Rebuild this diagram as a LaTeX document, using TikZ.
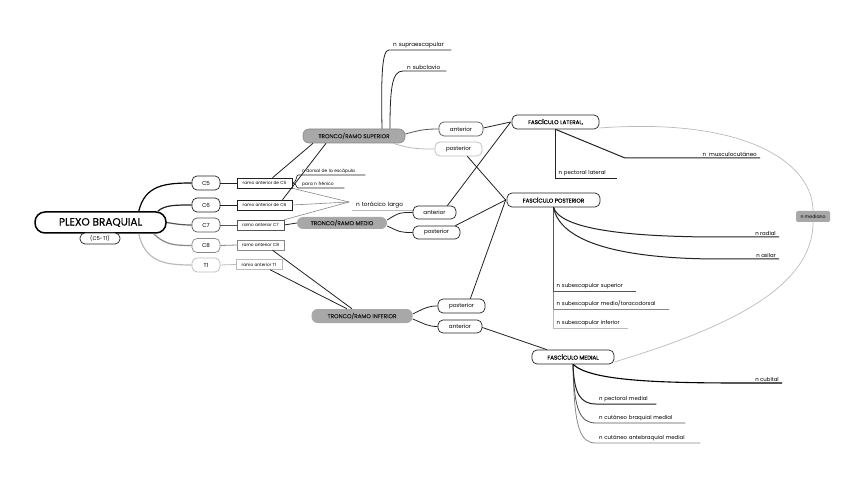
\documentclass[tikz,border=0pt]{standalone}
\usepackage{fontspec}
\setmainfont{Poppins}
\newfontfamily\popbold[FakeBold=0.5]{Poppins}
\newfontfamily\popmed[FakeBold=0.3]{Poppins}
\definecolor{gA}{HTML}{222222}
\definecolor{gB}{HTML}{555555}
\definecolor{gC}{HTML}{888888}
\definecolor{gD}{HTML}{BBBBBB}
\definecolor{trk}{HTML}{A8A8A8}
\begin{document}
\begin{tikzpicture}[x=1pt,y=-1pt,
  pill/.style={draw=gA, rounded corners=5pt, line width=0.7pt, inner sep=0pt, fill=white, font=\fontsize{5.6}{6}\selectfont},
  rbox/.style={draw=gA, line width=0.5pt, inner sep=0pt, fill=white, font=\fontsize{4.3}{5}\selectfont},
  trunk/.style={fill=trk, rounded corners=6pt, inner sep=0pt, text=gA, font=\popbold\fontsize{5.7}{6}\selectfont},
  leaf/.style={anchor=south west, inner xsep=2pt, inner ysep=1.6pt, align=left, font=\fontsize{5.4}{6}\selectfont},
  leafr/.style={anchor=south east, inner xsep=3pt, inner ysep=1.6pt, align=right, font=\fontsize{5.4}{6}\selectfont},
  cn/.style={line width=0.8pt, draw=gA},
]
\path[fill=white] (0,0) rectangle (848,478);

% ---------- root ----------
\node[draw=black, line width=1.5pt, rounded corners=10pt, minimum width=131pt, minimum height=21pt, inner sep=0pt, font=\popmed\fontsize{10.5}{12}\selectfont] (plexo) at (100.5,222.5) {PLEXO BRAQUIAL};
\node[pill, minimum width=40pt, minimum height=11pt, font=\fontsize{5.3}{6}\selectfont] (c5t1) at (100,238.5) {(C5-T1)};

% ---------- roots C5-T1 ----------
\node[pill, minimum width=28pt, minimum height=14pt] (C5) at (206,183) {C5};
\node[pill, minimum width=28pt, minimum height=14pt] (C6) at (206,205) {C6};
\node[pill, draw=gB, minimum width=28pt, minimum height=14pt] (C7) at (206,225) {C7};
\node[pill, draw=gC, minimum width=28pt, minimum height=14pt] (C8) at (206,245.5) {C8};
\node[pill, draw=gD, minimum width=28pt, minimum height=14pt] (T1) at (206,265) {T1};

\draw[line width=1.2pt, black] ([xshift=-28pt]plexo.north east) .. controls (145,185) and (165,183) .. (C5.west);
\draw[line width=1.2pt, gA] ([xshift=-9pt]plexo.north east) .. controls (165,205) and (175,205) .. (C6.west);
\draw[line width=1.2pt, gB] (plexo.east) .. controls (176,224) and (182,225) .. (C7.west);
\draw[line width=1.2pt, gC] ([xshift=-13pt]plexo.south east) .. controls (165,245) and (175,245.5) .. (C8.west);
\draw[line width=1.2pt, gD] ([xshift=-28pt]plexo.south east) .. controls (145,262) and (165,265) .. (T1.west);

% ---------- ramos ----------
\node[rbox, minimum width=55pt, minimum height=10pt] (rC5) at (264.5,183) {ramo anterior de C5};
\node[rbox, minimum width=55pt, minimum height=10pt] (rC6) at (264.5,205) {ramo anterior de C6};
\node[rbox, draw=gB, minimum width=47pt, minimum height=10pt] (rC7) at (260.5,225) {ramo anterior C7};
\node[rbox, draw=gC, minimum width=47pt, minimum height=10pt] (rC8) at (260.5,245) {ramo anterior C8};
\node[rbox, draw=gD, minimum width=46pt, minimum height=10pt] (rT1) at (259,264.5) {ramo anterior T1};

\draw[cn] (C5.east) -- (rC5.west);
\draw[cn, gA] (C6.east) -- (rC6.west);
\draw[cn, gB] (C7.east) -- (rC7.west);
\draw[cn, gC] (C8.east) -- (rC8.west);
\draw[cn, gD] (T1.east) -- (rT1.west);

% ---------- small leaves near C5 ----------
\node[leaf, text width=59pt, font=\fontsize{4.4}{5}\selectfont, inner xsep=4pt] (dorsal) at (298,175) {n dorsal de la escápula};
\node[leaf, text width=38pt, font=\fontsize{4.4}{5}\selectfont, inner xsep=4pt] (frenico) at (298,188) {para n frénico};
\draw[line width=0.6pt, gA] (rC5.east) .. controls (297,183) and (296,175) .. (dorsal.south west) -- (dorsal.south east);
\draw[line width=0.6pt, gA] (rC5.east) .. controls (297,183) and (296,188) .. (frenico.south west) -- (frenico.south east);

\node[leaf, text width=57pt, inner xsep=4pt, font=\fontsize{5.8}{6}\selectfont] (torac) at (352,210) {n torácico largo};
\coordinate (tj) at (349,202);
\draw[line width=0.6pt, gD] (torac.south west) -- (torac.south east);
\draw[line width=0.6pt, gC] (rC5.south east) -- (tj);
\draw[line width=0.6pt, gC] (rC6.east) -- (tj);
\draw[line width=0.6pt, gC] (rC7.north east) -- (tj);

% ---------- trunks ----------
\node[trunk, draw=gC, line width=0.6pt, minimum width=102pt, minimum height=14pt] (TS) at (354,136) {TRONCO/RAMO SUPERIOR};
\node[trunk, minimum width=90pt, minimum height=12pt] (TM) at (342,223) {TRONCO/RAMO MEDIO};
\node[trunk, minimum width=101pt, minimum height=14pt] (TI) at (362,316) {TRONCO/RAMO INFERIOR};

\draw[cn] ([xshift=8pt]rC5.north) -- ([xshift=-41pt]TS.south);
\draw[cn] ([xshift=18pt]rC6.north) -- ([xshift=-28pt]TS.south);
\draw[cn] (rC7.east) -- (TM.west);
\draw[cn] ([xshift=12pt]rC8.south) -- ([xshift=-10pt]TI.north);
\draw[cn] ([xshift=11pt]rT1.south) -- ([xshift=-15pt]TI.north);

% supraescapular / subclavio
\node[leaf, text width=54pt, inner xsep=4pt, font=\fontsize{5.7}{6}\selectfont] (supra) at (389,50) {n supraescapular};
\node[leaf, text width=35pt, inner xsep=4pt, font=\fontsize{5.7}{6}\selectfont] (subcl) at (403,71) {n subclavio};
\draw[cn] ([xshift=28pt]TS.north) .. controls (381,75) and (382,50) .. (supra.south west) -- (supra.south east);
\draw[cn] ([xshift=36pt]TS.north) .. controls (390,88) and (392,71) .. (subcl.south west) -- (subcl.south east);

% divisions
\node[pill, draw=gB, minimum width=44pt, minimum height=14pt] (aS) at (461,129) {anterior};
\node[pill, draw=gD, minimum width=47pt, minimum height=14pt] (pS) at (458.5,149) {posterior};
\node[pill, minimum width=43pt, minimum height=13pt] (aM) at (434.5,212.5) {anterior};
\node[pill, minimum width=47pt, minimum height=13pt] (pM) at (436.5,232.5) {posterior};
\node[pill, minimum width=47pt, minimum height=14pt] (pI) at (461.5,306) {posterior};
\node[pill, minimum width=44pt, minimum height=13pt] (aI) at (460,326.5) {anterior};

\draw[cn, gB] ([yshift=2pt]TS.east) .. controls (420,130) and (425,129) .. (aS.west);
\draw[cn, gD] ([xshift=-12pt]TS.south east) .. controls (410,149) and (420,149) .. (pS.west);
\draw[cn] ([yshift=3pt]TM.east) .. controls (400,212) and (400,212.5) .. (aM.west);
\draw[cn] ([yshift=-3pt]TM.east) .. controls (400,232) and (400,232.5) .. (pM.west);
\draw[cn] ([yshift=2pt]TI.east) .. controls (425,308) and (428,306) .. (pI.west);
\draw[cn] ([yshift=-3pt]TI.east) .. controls (425,324) and (428,326.5) .. (aI.west);

% ---------- fascicles ----------
\node[pill, font=\popmed\fontsize{5.6}{6}\selectfont, minimum width=87pt, minimum height=14pt] (FL) at (555.5,122) {FASCÍCULO LATERAL,};
\node[pill, font=\popmed\fontsize{5.6}{6}\selectfont, minimum width=93pt, minimum height=14pt] (FP) at (553.5,200) {FASCÍCULO POSTERIOR};
\node[pill, font=\popmed\fontsize{5.6}{6}\selectfont, minimum width=82pt, minimum height=14pt] (FM) at (573,357) {FASCÍCULO MEDIAL};
\node[fill=trk, rounded corners=1.5pt, inner sep=0pt, minimum width=34pt, minimum height=11pt, font=\fontsize{4.6}{5}\selectfont] (med) at (813,216.5) {n mediano};

\draw[cn] ([yshift=1pt]aS.east) -- ([xshift=-1pt]FL.west);
\draw[cn] ([xshift=-9pt]aM.north east) -- ([xshift=-1pt]FL.west);
\draw[cn] ([xshift=-15pt]pS.south east) -- ([xshift=-1pt]FP.west);
\draw[cn] ([xshift=-5pt]pM.north east) -- ([xshift=-1pt]FP.west);
\draw[cn] ([xshift=-15pt]pI.north east) -- ([xshift=-1pt]FP.west);
\draw[cn] ([yshift=-1pt]aI.east) -- ([xshift=-26pt]FM.north);

% mediano loop
\draw[line width=0.7pt, gD] ([yshift=-6pt]FL.east) .. controls (750,117) and (813,165) .. (med.north);
\draw[line width=0.7pt, gD] ([yshift=-5pt]FM.east) .. controls (720,330) and (813,290) .. (med.south);

% lateral branches
\node[leafr, font=\fontsize{5.6}{6}\selectfont] (musc) at (760,158) {n\ \ musculocutáneo};
\node[leaf, text width=55pt, inner xsep=3pt] (pectl) at (555.5,178) {n pectoral lateral};
\draw[line width=1pt, gA] (FL.south) -- (625,158) -- (musc.south east);
\draw[line width=0.9pt, gA] (FL.south) -- (pectl.south west) -- (pectl.south east);

% posterior branches
\node[leafr] (radial) at (779,237) {n radial};
\node[leafr] (axilar) at (779,259) {n axilar};
\node[leaf, text width=76pt, inner xsep=3pt] (ssup) at (553.5,291) {n subescapular superior};
\node[leaf, text width=109pt, inner xsep=3pt] (smed) at (553.5,309) {n subescapular medio/toracodorsal};
\node[leaf, text width=68pt, inner xsep=3pt] (sinf) at (553.5,328) {n subescapular inferior};
\draw[line width=0.7pt, gD] (FP.south) -- (sinf.south west) -- (sinf.south east);
\draw[line width=0.7pt, gC] (FP.south) -- (smed.south west) -- (smed.south east);
\draw[line width=0.8pt, gB] (FP.south) -- (ssup.south west) -- (ssup.south east);
\draw[line width=1pt, gA] (FP.south) .. controls (560,228) and (620,237) .. (720,237) -- (radial.south east);
\draw[line width=1pt, gA] (FP.south) .. controls (560,242) and (620,259) .. (720,259) -- (axilar.south east);

% medial branches
\node[leafr] (cubital) at (782,383) {n cubital};
\node[leaf, text width=54pt, inner xsep=3pt] (pectm) at (596,404) {n pectoral medial};
\node[leaf, text width=83pt, inner xsep=3pt] (cbraq) at (596,423) {n cutáneo braquial medial};
\node[leaf, text width=98pt, inner xsep=3pt] (cante) at (596,443) {n cutáneo antebraquial medial};
\draw[line width=0.8pt, gC] (FM.south) .. controls (574,428) and (580,443) .. (cante.south west) -- (cante.south east);
\draw[line width=0.8pt, gB] (FM.south) .. controls (574,410) and (580,423) .. (cbraq.south west) -- (cbraq.south east);
\draw[line width=1pt, gA] (FM.south) .. controls (574,393) and (580,404) .. (pectm.south west) -- (pectm.south east);
\draw[line width=1.1pt, black] (FM.south) .. controls (590,380) and (650,383) .. (740,383) -- (cubital.south east);
\end{tikzpicture}
\end{document}
